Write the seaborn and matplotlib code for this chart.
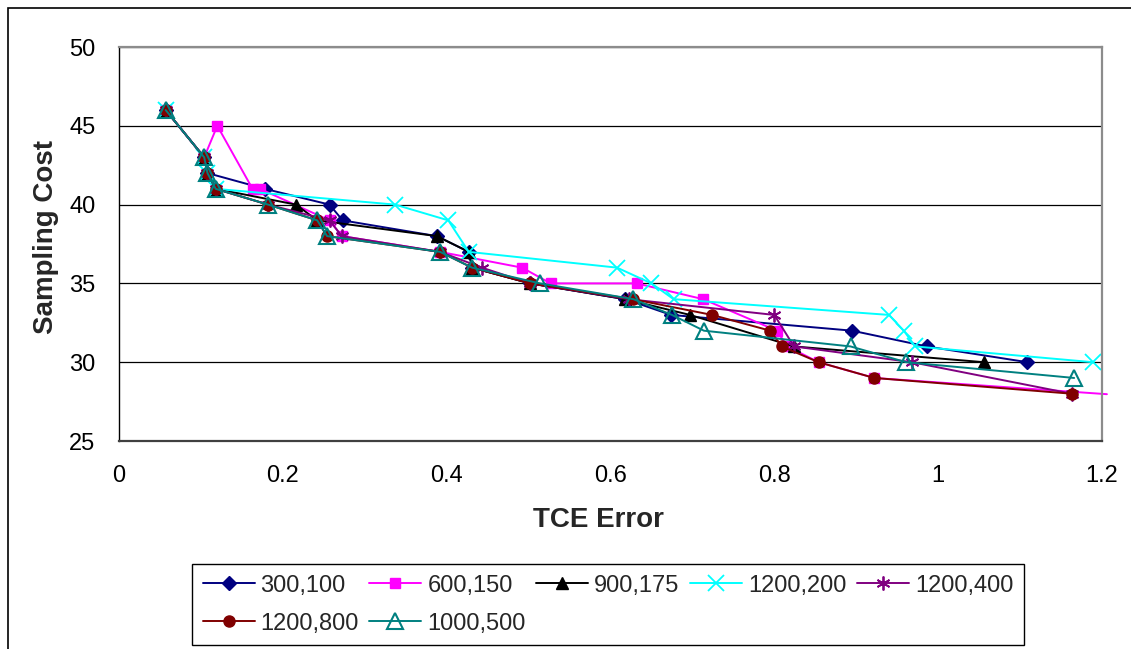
import matplotlib
matplotlib.use("Agg")
import matplotlib.pyplot as plt
import matplotlib.patches as mpatches
import seaborn as sns
import pandas as pd

# ---- data ----
series_names = ["300,100", "600,150", "900,175", "1200,200", "1200,400", "1200,800", "1000,500"]

x_300_100 = [0.057, 0.104, 0.108, 0.178, 0.257, 0.273, 0.388, 0.427, 0.431, 0.502, 0.618, 0.674, 0.895, 0.986, 1.109]
y_300_100 = [46, 43, 42, 41, 40, 39, 38, 37, 36, 35, 34, 33, 32, 31, 30]

x_600_150 = [0.057, 0.104, 0.120, 0.163, 0.172, 0.257, 0.272, 0.392, 0.492, 0.527, 0.632, 0.713, 0.803, 0.816, 0.854, 0.922, 1.206]
y_600_150 = [46, 43, 45, 41, 41, 39, 38, 37, 36, 35, 35, 34, 32, 31, 30, 29, 27.97]

x_900_175 = [0.057, 0.104, 0.108, 0.118, 0.216, 0.242, 0.388, 0.427, 0.431, 0.502, 0.618, 0.697, 0.824, 1.056]
y_900_175 = [46, 43, 42, 41, 40, 39, 38, 37, 36, 35, 34, 33, 31, 30]

x_1200_200 = [0.057, 0.104, 0.108, 0.118, 0.337, 0.402, 0.427, 0.608, 0.650, 0.677, 0.940, 0.958, 0.972, 1.189]
y_1200_200 = [46, 43, 42, 41, 40, 39, 37, 36, 35, 34, 33, 32, 31, 30]

x_1200_400 = [0.057, 0.104, 0.108, 0.118, 0.182, 0.257, 0.272, 0.392, 0.443, 0.502, 0.622, 0.800, 0.824, 0.968, 1.163]
y_1200_400 = [46, 43, 42, 41, 40, 39, 38, 37, 36, 35, 34, 33, 31, 30, 28]

x_1200_800 = [0.057, 0.104, 0.108, 0.118, 0.182, 0.242, 0.254, 0.392, 0.431, 0.502, 0.627, 0.724, 0.795, 0.809, 0.854, 0.922, 1.163]
y_1200_800 = [46, 43, 42, 41, 40, 39, 38, 37, 36, 35, 34, 33, 32, 31, 30, 29, 28]

x_1000_500 = [0.057, 0.104, 0.108, 0.118, 0.182, 0.242, 0.254, 0.392, 0.431, 0.514, 0.628, 0.675, 0.714, 0.893, 0.961, 1.166]
y_1000_500 = [46, 43, 42, 41, 40, 39, 38, 37, 36, 35, 34, 33, 32, 31, 30, 29]

x_ticks = [0, 0.2, 0.4, 0.6, 0.8, 1, 1.2]
x_tick_labels = ["0", "0.2", "0.4", "0.6", "0.8", "1", "1.2"]
y_ticks = [25, 30, 35, 40, 45, 50]
x_label = "TCE Error"
y_label = "Sampling Cost"

all_x = [x_300_100, x_600_150, x_900_175, x_1200_200, x_1200_400, x_1200_800, x_1000_500]
all_y = [y_300_100, y_600_150, y_900_175, y_1200_200, y_1200_400, y_1200_800, y_1000_500]

frames = []
for name, xs, ys in zip(series_names, all_x, all_y):
    frames.append(pd.DataFrame({"series": name, "err": xs, "cost": ys, "order": range(len(xs))}))
df = pd.concat(frames, ignore_index=True)

# ---- styles ----
styles = {
    "300,100":  dict(color="#000080", marker="D", ms=7.5, mfc="#000080", mec="#000080", mew=1),
    "600,150":  dict(color="#FF00FF", marker="s", ms=7, mfc="#FF00FF", mec="#FF00FF", mew=1),
    "900,175":  dict(color="#000000", marker="^", ms=9, mfc="#000000", mec="#000000", mew=1),
    "1200,200": dict(color="#00FFFF", marker="x", ms=12, mfc="#00FFFF", mec="#00FFFF", mew=1.3),
    "1200,400": dict(color="#800080", marker=(6, 2, 0), ms=10, mfc="#800080", mec="#800080", mew=1.3),
    "1200,800": dict(color="#800000", marker="o", ms=8, mfc="#800000", mec="#800000", mew=1),
    "1000,500": dict(color="#008080", marker="^", ms=11, mfc="none", mec="#008080", mew=1.5),
}

sns.set_theme(style="white")
plt.rcParams["font.family"] = ["Liberation Sans", "DejaVu Sans"]

fig = plt.figure(figsize=(11.31, 6.49), dpi=100)
ax = fig.add_axes([119 / 1131, 1 - 441 / 649, (1102 - 119) / 1131, (441 - 47) / 649])

for i, name in enumerate(series_names):
    st = styles[name]
    sub = df[df["series"] == name].sort_values("order")
    n = len(sub)
    # the last 600,150 point lies just beyond the plot edge: its marker is not shown
    mk_every = list(range(n - 1)) if name == "600,150" else None
    sns.lineplot(data=sub, x="err", y="cost", ax=ax, sort=False, estimator=None,
                 color=st["color"], lw=1.4, marker=st["marker"], markersize=st["ms"],
                 markerfacecolor=st["mfc"], markeredgecolor=st["mec"], markeredgewidth=st["mew"],
                 markevery=mk_every,
                 label=name, zorder=3 + i, clip_on=(name != "600,150"))

ax.set_xlim(0, 1.2)
ax.set_ylim(25, 50)
ax.set_xticks(x_ticks)
ax.set_xticklabels(x_tick_labels)
ax.set_yticks(y_ticks)
ax.tick_params(axis="both", labelsize=17, colors="black", direction="out", length=7, width=1)
ax.tick_params(axis="x", pad=10)
ax.tick_params(axis="y", pad=10)
ax.yaxis.grid(True, color="black", lw=0.9)
ax.xaxis.grid(False)
ax.set_axisbelow(True)

for side in ["top", "right"]:
    ax.spines[side].set_color("#8c8c8c")
    ax.spines[side].set_linewidth(1.6)
ax.spines["left"].set_color("black")
ax.spines["left"].set_linewidth(1.0)
ax.spines["bottom"].set_color("#404040")
ax.spines["bottom"].set_linewidth(1.6)
for sp in ax.spines.values():
    sp.set_zorder(20)

ax.set_xlabel(x_label, fontsize=20, fontweight="bold")
ax.set_ylabel(y_label, fontsize=20, fontweight="bold")
ax.xaxis.set_label_coords((598 - 119) / 983, -(520 - 441) / 394)
ax.xaxis.label.set_verticalalignment("center")
ax.yaxis.set_label_coords(-(119 - 46) / 983, (441 - 237) / 394)
ax.yaxis.label.set_verticalalignment("center")

ax.get_legend().remove()
handles, labels = ax.get_legend_handles_labels()
hmap = dict(zip(labels, handles))
leg_order = ["300,100", "1200,800", "600,150", "1000,500", "900,175", "1200,200", "1200,400"]
leg = fig.legend([hmap[k] for k in leg_order], leg_order, ncol=5,
                 loc="upper left", bbox_to_anchor=(192 / 1131, 1 - 564 / 649),
                 fontsize=17, frameon=True, fancybox=False, edgecolor="black",
                 framealpha=1, handlelength=2.2, handletextpad=0.25,
                 columnspacing=0.45, labelspacing=0.68, borderpad=0.45, borderaxespad=0)
leg.get_frame().set_linewidth(1.0)
# legend entries: a single marker in the middle of each sample line
for lh in leg.legend_handles:
    try:
        lh.set_markevery([1])
    except Exception:
        pass

# chart area border (left and top visible, right/bottom run off the image)
fig.add_artist(mpatches.Rectangle((8 / 1131, -0.2), 1.2, 1.2 - 8 / 649, transform=fig.transFigure,
                                  fill=False, edgecolor="black", lw=1.2, clip_on=False))

fig.savefig("out.png", dpi=100)
